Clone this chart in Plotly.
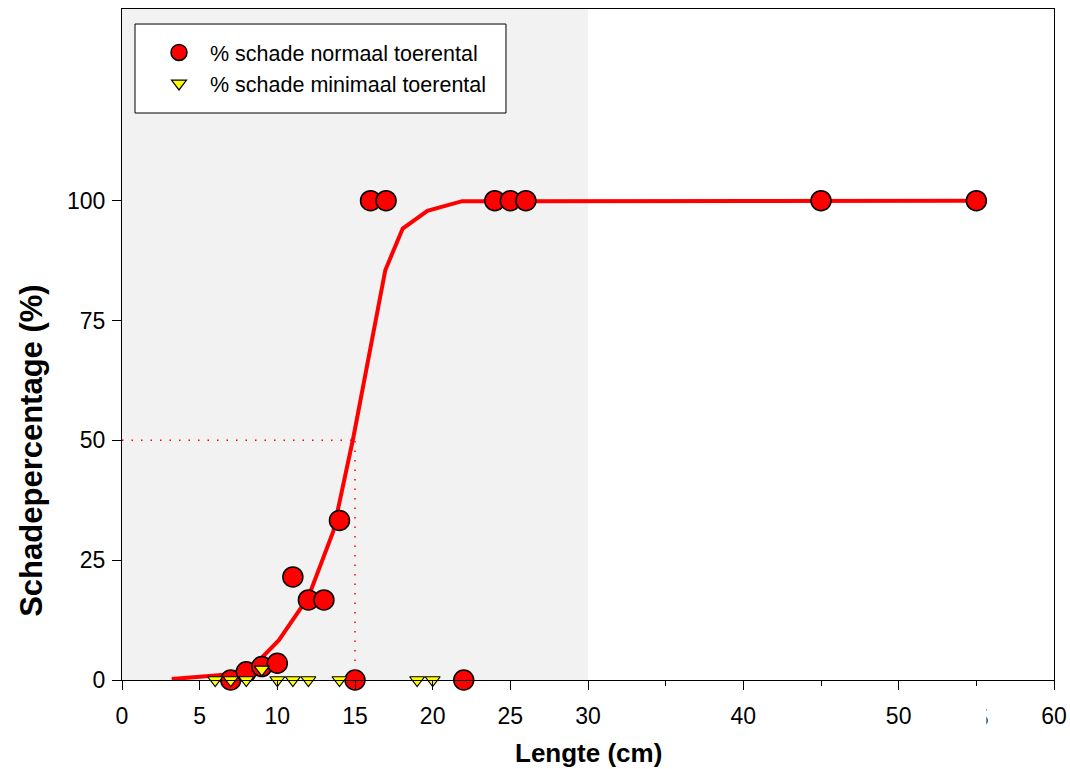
import plotly.graph_objects as go

# Lengte (cm) and damage percentages
len_normaal = [7, 8, 9, 10, 11, 12, 13, 14, 15, 16, 17, 22, 24, 25, 26, 45, 55]
pct_normaal = [0, 1.7, 2.8, 3.5, 21.5, 16.7, 16.7, 33.3, 0, 100, 100, 0, 100, 100, 100, 100, 100]

len_minimaal = [6, 7, 8, 9, 10, 11, 12, 14, 19, 20]
pct_minimaal = [0, 0, 0, 2.2, 0, 0, 0, 0, 0, 0]

# fitted curve (normaal toerental)
fit_len = [3.2, 7.0, 8.5, 10.1, 12.0, 13.6, 14.9, 16.1, 16.95, 18.07, 19.66, 21.9, 55]
fit_pct = [0.2, 1.2, 3.0, 8.3, 17.3, 31.0, 50.7, 71.5, 85.5, 94.2, 97.9, 99.9, 100]

# 50 % damage length
l50 = 15.0
p50 = 50.0

x_major = [0, 5, 10, 15, 20, 25, 30, 40, 50, 60]
x_minor = [35, 45, 55]
y_ticks = [0, 25, 50, 75, 100]

FONT = "Arial, Liberation Sans, sans-serif"

fig = go.Figure()

fig.add_trace(go.Scatter(
    x=fit_len, y=fit_pct, mode="lines",
    line=dict(color="#ff0000", width=4),
    showlegend=False, hoverinfo="skip", cliponaxis=False,
))

fig.add_trace(go.Scatter(
    x=len_normaal, y=pct_normaal, mode="markers",
    name="% schade normaal toerental",
    marker=dict(symbol="circle", size=20, color="#ff0000",
                line=dict(color="#000000", width=1.5)),
    cliponaxis=False,
))

fig.add_trace(go.Scatter(
    x=len_minimaal, y=pct_minimaal, mode="markers",
    name="% schade minimaal toerental",
    marker=dict(symbol="triangle-down", size=13, color="#ffff00",
                line=dict(color="#000000", width=1.2)),
    cliponaxis=False,
))

shapes = [
    # grey band over 0–30 cm
    dict(type="rect", xref="x", yref="paper", x0=0, x1=30, y0=0, y1=1,
         fillcolor="#f2f2f2", line=dict(width=0), layer="below"),
    # dotted guide lines to the 50 % point
    dict(type="line", xref="x", yref="y", x0=0, x1=l50, y0=p50, y1=p50,
         line=dict(color="#ff0000", width=1.5, dash="1.5px,8px"), layer="above"),
    dict(type="line", xref="x", yref="y", x0=l50, x1=l50, y0=0, y1=p50,
         line=dict(color="#ff0000", width=1.5, dash="1.5px,8px"), layer="above"),
    # legend frame
    dict(type="rect", xref="paper", yref="paper",
         x0=0.01395, x1=0.412, y0=0.845, y1=0.9776,
         fillcolor="#ffffff", line=dict(color="#000000", width=1), layer="above"),
]

annotations = [
    dict(text="<b>Schadepercentage (%)</b>", textangle=-90,
         xref="paper", yref="paper", x=-0.0966, y=0.343,
         xanchor="center", yanchor="middle", showarrow=False,
         font=dict(family=FONT, size=31, color="#000000")),
    dict(text="<b>Lengte (cm)</b>",
         xref="paper", yref="paper", x=0.5, y=-0.1088,
         xanchor="center", yanchor="middle", showarrow=False,
         font=dict(family=FONT, size=26, color="#000000")),
    # label at 55, mostly hidden behind a white box
    dict(text="55", xref="x", yref="paper", x=55, y=-0.057,
         xanchor="center", yanchor="middle", showarrow=False,
         font=dict(family=FONT, size=23, color="#000000")),
    dict(text="&nbsp;", xref="paper", yref="paper", x=(986.5 - 122) / 932, y=-0.057,
         xanchor="right", yanchor="middle", showarrow=False, bgcolor="#ffffff",
         width=40, height=34, font=dict(size=10)),
]

fig.update_layout(
    width=1070, height=769,
    margin=dict(l=122, r=16, t=9, b=89, autoexpand=False),
    paper_bgcolor="#ffffff", plot_bgcolor="#ffffff",
    font=dict(family=FONT, size=23, color="#000000"),
    shapes=shapes, annotations=annotations,
    showlegend=True,
    legend=dict(
        x=(148 - 122) / 932, y=(680 - 32) / 671, xanchor="left", yanchor="top",
        bgcolor="rgba(0,0,0,0)", borderwidth=0,
        font=dict(family=FONT, size=21.5, color="#000000"),
        tracegroupgap=0, itemsizing="trace", itemwidth=52,
    ),
    xaxis=dict(
        range=[0, 60], tickvals=x_major, ticktext=[str(v) for v in x_major],
        ticks="outside", ticklen=9, tickwidth=1.2, tickcolor="#000000",
        minor=dict(tickvals=x_minor, ticks="outside", ticklen=5, tickwidth=1.2,
                   tickcolor="#000000"),
        showline=True, linecolor="#000000", linewidth=1.2, mirror=True,
        showgrid=False, zeroline=False, automargin=False,
        tickfont=dict(family=FONT, size=23), ticklabelstandoff=6,
    ),
    yaxis=dict(
        range=[0, 140], tickvals=y_ticks,
        ticks="outside", ticklen=9, tickwidth=1.2, tickcolor="#000000",
        showline=True, linecolor="#000000", linewidth=1.2, mirror=True,
        showgrid=False, zeroline=False, automargin=False,
        tickfont=dict(family=FONT, size=23), ticklabelstandoff=2,
    ),
)

fig.write_html("out.html")
